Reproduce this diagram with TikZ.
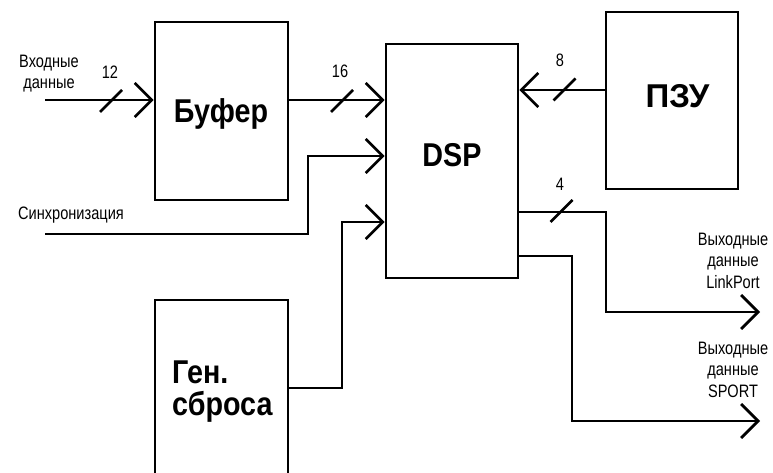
\documentclass[tikz,border=0pt]{standalone}
\usepackage{fontspec}
\setmainfont{Liberation Sans}
\newfontfamily\labf[FakeStretch=0.81]{Liberation Sans}
\newfontfamily\boxf[FakeStretch=0.87]{Liberation Sans}
\newfontfamily\boxwf{Liberation Sans}
\usetikzlibrary{arrows.meta}
\begin{document}
\begin{tikzpicture}[x=1pt,y=-1pt,
  blk/.style={draw, line width=2.7pt, rectangle, inner sep=0pt},
  conn/.style={line width=2.7pt},
  arr/.style={conn, -{Straight Barb[length=17pt,width=34pt]}},
  lbl/.style={font=\labf\fontsize{18}{21.5}\selectfont, inner sep=0pt, align=center},
  big/.style={font=\boxf\bfseries\fontsize{33}{32}\selectfont, inner sep=0pt},
  bigw/.style={font=\boxwf\bfseries\fontsize{33}{32}\selectfont, inner sep=0pt},
  slashmark/.style={line width=2.7pt}]
\useasboundingbox (0,0) rectangle (773,473);
\clip (0,0) rectangle (773,473);
% blocks
\node[blk, minimum width=133pt, minimum height=178pt] (buf) at (221.5,111) {};
\node[blk, minimum width=132pt, minimum height=234pt] (dsp) at (452,161) {};
\node[blk, minimum width=132pt, minimum height=177pt] (rom) at (672,100.5) {};
\node[blk, minimum width=133pt, minimum height=220pt] (gen) at (221.5,410) {};
% block texts
\node[big, anchor=base] (tbuf) at (221,123) {Буфер};
\node[big, anchor=base] (tdsp) at (452,167) {DSP};
\node[bigw, anchor=base] (trom) at (677.5,108) {ПЗУ};
\node[big, anchor=base west, align=left] (tgen) at (172,415) {Ген.\\сброса};
% coordinates
\coordinate (inL) at (45,100);
\coordinate (syncL) at (45,234);
\coordinate (syncA) at (308,234);
\coordinate (syncB) at (308,156);
\coordinate (rstA) at (342,388);
\coordinate (rstB) at (342,222);
\coordinate (romY) at (0,90);
\coordinate (lpA) at (606,212);
\coordinate (lpB) at (606,312);
\coordinate (lpE) at (760,312);
\coordinate (spA) at (572,256);
\coordinate (spB) at (572,421);
\coordinate (spE) at (760,421);
% connectors
\draw[arr] (inL) -- (inL -| buf.west);
\draw[arr] (buf.east |- inL) -- (dsp.west |- inL);
\draw[arr] (syncL) -- (syncA) -- (syncB) -- (dsp.west |- syncB);
\draw[arr] (gen.east |- rstA) -- (rstA) -- (rstB) -- (dsp.west |- rstB);
\draw[arr] (rom.west |- romY) -- (dsp.east |- romY);
\draw[arr] (dsp.east |- lpA) -- (lpA) -- (lpB) -- (lpE);
\draw[arr] (dsp.east |- spA) -- (spA) -- (spB) -- (spE);
% bus width slashes
\coordinate (s12) at (111,101);
\coordinate (s16) at (342,101);
\coordinate (s8) at (564.5,89.5);
\coordinate (s4) at (561.5,211);
\foreach \s in {s12,s16,s8,s4}
  \draw[slashmark] ([shift={(-11,11)}]\s) -- ([shift={(11,-11)}]\s);
% labels
\node[lbl, anchor=base] (n12) at (110,79) {12};
\node[lbl, anchor=base] (n16) at (340,78) {16};
\node[lbl, anchor=base] (n8) at (560,67) {8};
\node[lbl, anchor=base] (n4) at (560,190) {4};
\node[lbl, anchor=base] (lin) at (49,89) {Входные\\данные};
\node[lbl, anchor=base west] (lsync) at (18,219) {Синхронизация};
\node[lbl, anchor=base] (llp) at (733,288) {Выходные\\данные\\LinkPort};
\node[lbl, anchor=base] (lsp) at (733,397) {Выходные\\данные\\SPORT};
\end{tikzpicture}
\end{document}
